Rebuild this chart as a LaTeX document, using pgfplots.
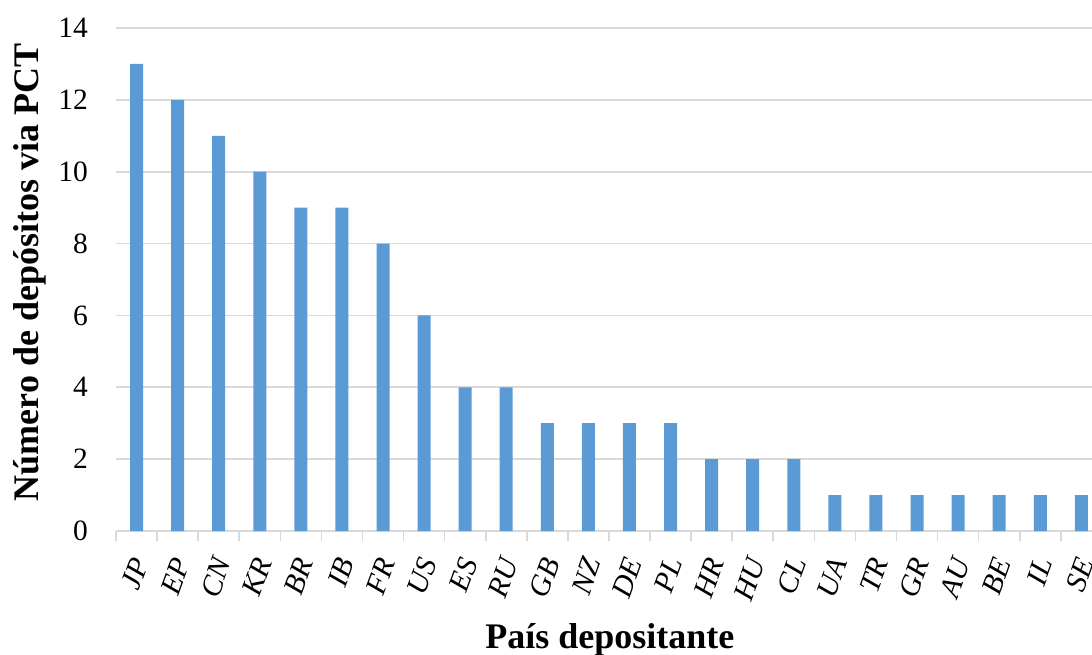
\documentclass[border=0pt]{standalone}
\usepackage{fontspec}
\setmainfont{Liberation Serif}
\usepackage{pgfplots}
\pgfplotsset{compat=1.18}
\definecolor{barblue}{HTML}{5B9BD5}
\definecolor{gridgray}{HTML}{D9D9D9}
\begin{document}
\begin{tikzpicture}
\path[use as bounding box] (0,0) rectangle (1092pt,654pt);
\begin{axis}[
  at={(116pt,123pt)}, anchor=south west,
  scale only axis, width=976pt, height=503pt,
  xmin=-0.5, xmax=23.26, ymin=0, ymax=14,
  ytick={0,2,...,14},
  xtick={0,...,23},
  xticklabels={JP,EP,CN,KR,BR,IB,FR,US,ES,RU,GB,NZ,DE,PL,HR,HU,CL,UA,TR,GR,AU,BE,IL,SE},
  minor xtick={-0.5,0.5,...,22.5},
  major tick length=0pt,
  minor tick length=10pt,
  tick align=outside,
  minor tick style={draw=gridgray, line width=1.6pt},
  axis x line*=bottom,
  axis y line*=left,
  x axis line style={draw=gridgray, line width=1.8pt, -},
  y axis line style={draw=none},
  ymajorgrids,
  major grid style={draw=gridgray, line width=1.8pt},
  /pgf/number format/assume math mode=true,
  tick label style={font=\fontsize{29.5}{34}\selectfont, text=black},
  yticklabel style={anchor=east, inner sep=0pt, xshift=-28pt},
  xticklabel style={font=\fontsize{29.5}{34}\selectfont\itshape, xshift=4pt, yshift=-28pt, rotate=70, anchor=east, inner sep=0pt},
  xlabel={País depositante},
  ylabel={Número de depósitos via PCT},
  xlabel style={font=\fontsize{36}{42}\selectfont\bfseries, at={(axis description cs:0.506,-0.216)}, anchor=center},
  ylabel style={font=\fontsize{36}{42}\selectfont\bfseries, at={(axis description cs:-0.088,0.514)}, anchor=center},
  clip=false,
]
\addplot[ybar, bar width=13pt, fill=barblue, draw=none] coordinates {
  (0,13) (1,12) (2,11) (3,10) (4,9) (5,9) (6,8) (7,6)
  (8,4) (9,4) (10,3) (11,3) (12,3) (13,3) (14,2) (15,2)
  (16,2) (17,1) (18,1) (19,1) (20,1) (21,1) (22,1) (23,1)
};
\end{axis}
\end{tikzpicture}
\end{document}
